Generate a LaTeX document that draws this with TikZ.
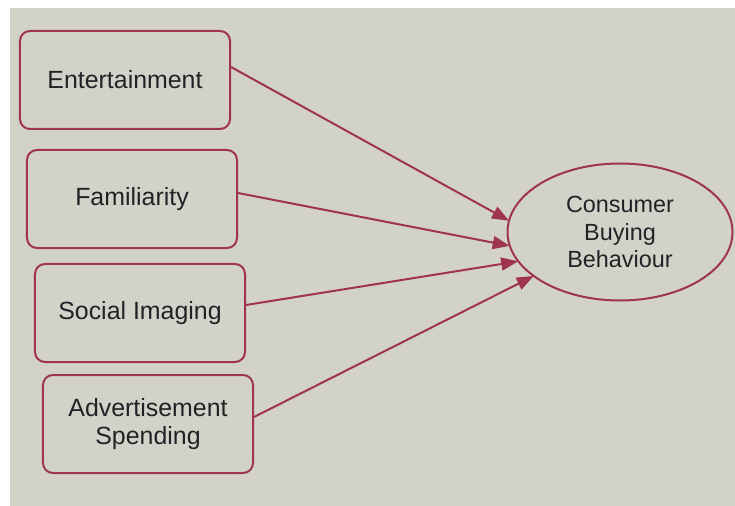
\documentclass[tikz,border=0pt]{standalone}
\usepackage{fontspec}
\setmainfont{Liberation Sans}
\usetikzlibrary{shapes.geometric,arrows.meta}
\definecolor{paper}{HTML}{D3D2C9}
\definecolor{linecol}{HTML}{9E3450}
\definecolor{txt}{HTML}{222226}
\tikzset{
  factor/.style={draw=linecol, line width=2bp, rounded corners=10bp, minimum width=210bp, minimum height=98bp, inner sep=0pt, align=center, text=txt, font=\fontsize{25}{28}\selectfont},
  target/.style={draw=linecol, line width=2bp, ellipse, minimum width=225bp, minimum height=137bp, inner sep=0pt, align=center, text=txt, font=\fontsize{23.5}{28}\selectfont},
  link/.style={draw=linecol, line width=2bp, -{Triangle[length=17bp,width=13bp]}, shorten >=-1bp}
}
\begin{document}
\begin{tikzpicture}[x=1bp,y=-1bp]
\useasboundingbox (0,0) rectangle (735,506);
\fill[white] (0,0) rectangle (735,506);
\fill[paper] (10,8) rectangle (735,506);
\node[factor] (ent) at (125,80) {Entertainment};
\node[factor] (fam) at (132,199) {Familiarity};
\node[factor] (soc) at (140,313) {Social Imaging};
\node[factor] (adv) at (148,424) {Advertisement\\Spending};
\node[target] (cbb) at (620,232) {Consumer\\Buying\\Behaviour};
\draw[link] ([yshift=13bp]ent.east) -- (cbb.174.7);
\draw[link] ([yshift=6bp]fam.east) -- (cbb.187.8);
\draw[link] ([yshift=8bp]soc.east) -- (cbb.196.4);
\draw[link] ([yshift=7bp]adv.east) -- (cbb.207.3);
\end{tikzpicture}
\end{document}
